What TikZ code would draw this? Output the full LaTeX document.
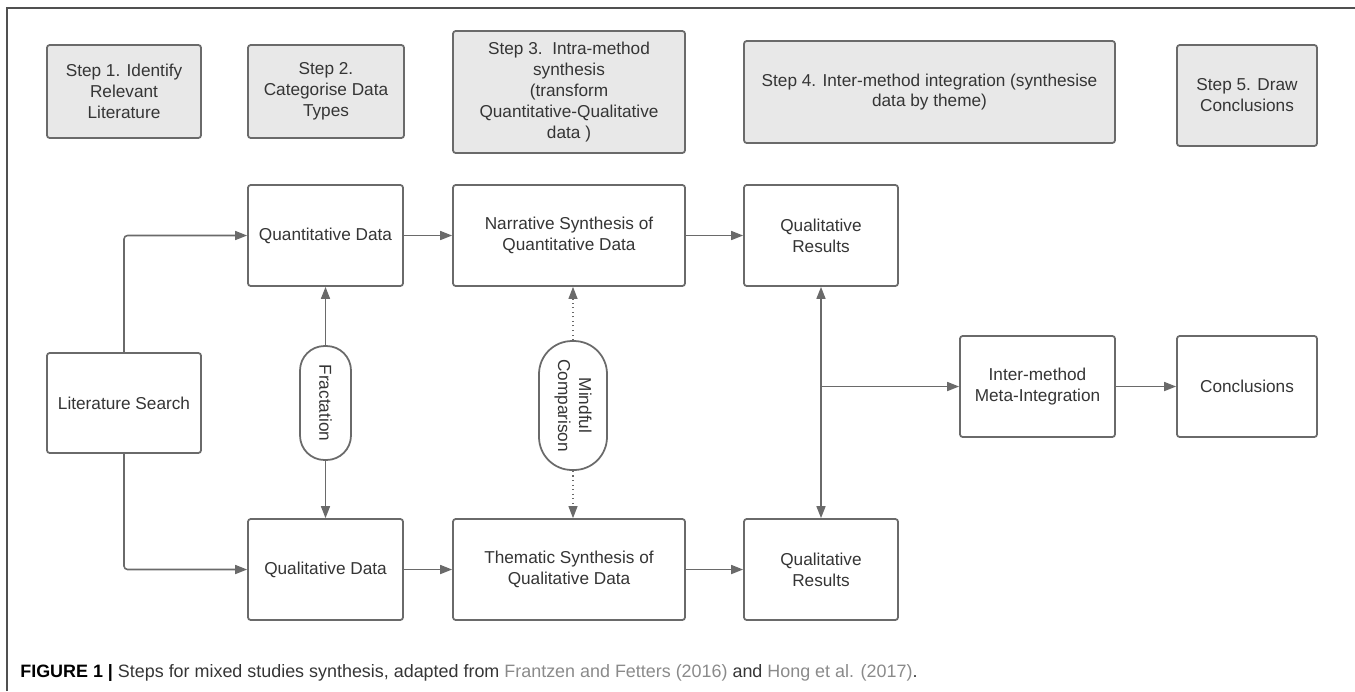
\documentclass[tikz,border=0pt]{standalone}
\usepackage{fontspec}
\setmainfont{Liberation Sans}
\usetikzlibrary{arrows.meta}
\definecolor{boxline}{HTML}{6A6A6A}
\definecolor{stepfill}{HTML}{E8E8E8}
\definecolor{txtgray}{HTML}{353535}
\definecolor{framegray}{HTML}{505050}
\definecolor{linkgray}{HTML}{8A8A8A}
\tikzset{
  >={Triangle[length=2.4mm,width=1.8mm]},
  stepbox/.style={draw=boxline, line width=1pt, fill=stepfill, rounded corners=1.5pt, align=center, inner sep=2pt},
  databox/.style={draw=boxline, line width=1pt, fill=white, rounded corners=1.5pt, align=center, inner sep=2pt},
  pill/.style={draw=boxline, line width=1pt, fill=white, rotate=-90, align=center, inner sep=1pt},
  flow/.style={draw=boxline, line width=0.9pt, ->},
  dotflow/.style={draw=boxline, line width=0.6pt, dotted, ->},
}

\begin{document}
\begin{tikzpicture}[x=0.02cm, y=-0.02cm, font=\fontsize{9.8}{11.9}\selectfont, text=txtgray]
			%%%%% START %%%%%
			\useasboundingbox (0,0) rectangle (1355,691);
			
			% frame of the figure
			\draw[framegray, line width=0.8pt] (7,691) -- (7,8) -- (1355,8);
			
			% steps
			\node[stepbox, minimum width=3.08cm, minimum height=1.86cm] (s1) at (124,91.5) {Step 1. Identify\\Relevant\\Literature};
			\node[stepbox, minimum width=3.12cm, minimum height=1.86cm] (s2) at (326,91.5) {Step 2.\\Categorise Data\\Types};
			\node[stepbox, minimum width=4.64cm, minimum height=2.44cm] (s3) at (569,92) {Step 3.\ \ Intra-method\\synthesis\\(transform\\Quantitative-Qualitative\\data )};
			\node[stepbox, minimum width=7.42cm, minimum height=2.04cm] (s4) at (929.5,92) {Step 4. Inter-method integration (synthesise\\data by theme)};
			\node[stepbox, minimum width=2.8cm, minimum height=2.02cm] (s5) at (1247,95.5) {Step 5. Draw\\Conclusions};
			
			% data boxes
			\node[databox, minimum width=3.08cm, minimum height=2cm] (lit) at (124,403) {Literature Search};
			\node[databox, minimum width=3.1cm, minimum height=2.02cm] (quant) at (325.5,235.5) {Quantitative Data};
			\node[databox, minimum width=3.1cm, minimum height=2.02cm] (qual) at (325.5,569.5) {Qualitative Data};
			\node[databox, minimum width=4.64cm, minimum height=2.02cm] (narr) at (569,235.5) {Narrative Synthesis of\\Quantitative Data};
			\node[databox, minimum width=4.64cm, minimum height=2.02cm] (them) at (569,569.5) {Thematic Synthesis of\\Qualitative Data};
			\node[databox, minimum width=3.08cm, minimum height=2.02cm] (qrtop) at (821,235.5) {Qualitative\\Results};
			\node[databox, minimum width=3.08cm, minimum height=2.02cm] (qrbot) at (821,569.5) {Qualitative\\Results};
			\node[databox, minimum width=3.1cm, minimum height=2.02cm] (inter) at (1037.5,386.5) {Inter-method\\Meta-Integration};
			\node[databox, minimum width=2.8cm, minimum height=2.02cm] (concl) at (1247,386.5) {Conclusions};
			
			% pills
			\node[pill, minimum width=2.28cm, minimum height=1.02cm, rounded corners=0.49cm] (frac) at (325.5,403) {Fractation};
			\node[pill, minimum width=2.58cm, minimum height=1.36cm, rounded corners=0.66cm] (mind) at (573,405.5) {Mindful\\Comparison};
			
			% connectors
			\draw[flow, rounded corners=2pt] (lit.north) |- (quant.west);
			\draw[flow, rounded corners=2pt] (lit.south) |- (qual.west);
			\draw[flow] (quant.east) -- (narr.west);
			\draw[flow] (qual.east) -- (them.west);
			\draw[flow] (narr.east) -- (qrtop.west);
			\draw[flow] (them.east) -- (qrbot.west);
			\draw[flow] (frac.west) -- (quant.south);
			\draw[flow] (frac.east) -- (qual.north);
			\draw[dotflow] (mind.west) -- (mind.west |- narr.south);
			\draw[dotflow] (mind.east) -- (mind.east |- them.north);
			\draw[flow, <->] (qrtop.south) -- (qrbot.north);
			\coordinate (branch) at (qrtop.south |- inter.west);
			\draw[flow] (branch) -- (inter.west);
			\draw[flow] (inter.east) -- (concl.west);
			
			% caption
			\node[anchor=west, inner sep=0pt, text=txtgray, font=\fontsize{10.2}{12}\selectfont] (cap) at (20,673) {\textcolor{black}{\bfseries FIGURE 1 |} Steps for mixed studies synthesis, adapted from \textcolor{linkgray}{Frantzen and Fetters (2016)} and \textcolor{linkgray}{Hong et al. (2017)}.};
			
			%%%%% END %%%%%
		\end{tikzpicture}
\end{document}
